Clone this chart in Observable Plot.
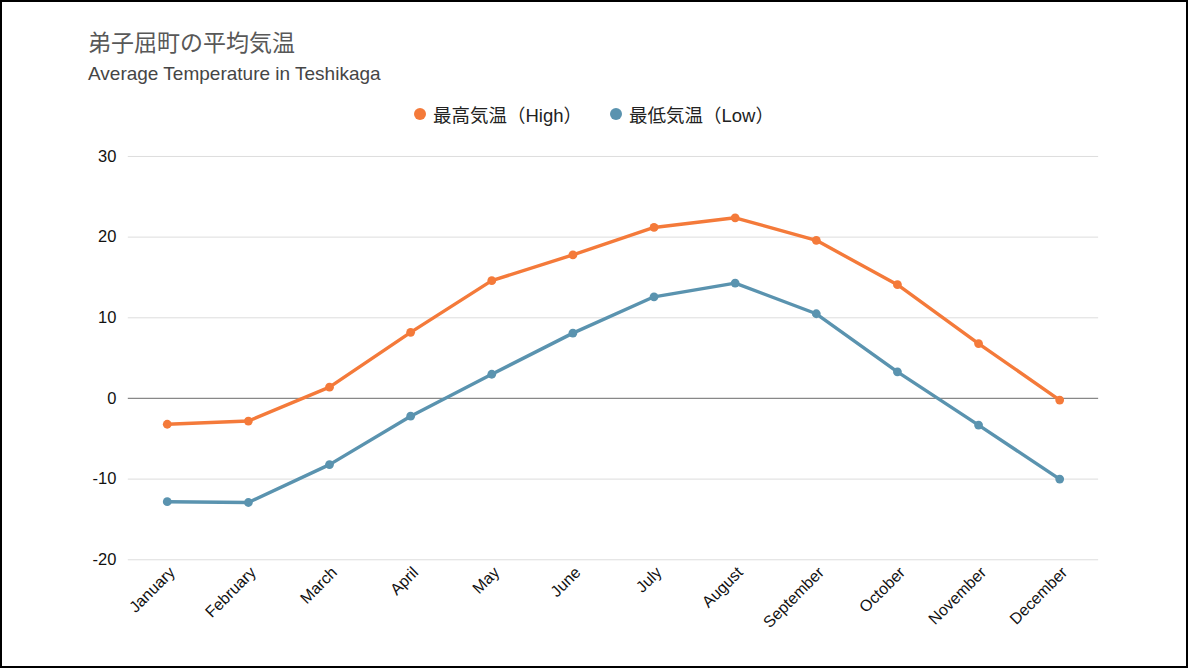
<!DOCTYPE html>
<html>
<head>
<meta charset="utf-8">
<script src="https://cdn.jsdelivr.net/npm/d3@7"></script>
<script src="https://cdn.jsdelivr.net/npm/@observablehq/plot@0.6"></script>
<style>
  html, body { margin: 0; padding: 0; background: #fff; }
  #frame { position: relative; width: 1188px; height: 668px; box-sizing: border-box; border: 2px solid #000; overflow: hidden;
    font-family: "Liberation Sans", Arial, "Noto Sans CJK JP", sans-serif; }
  #title { position: absolute; left: 86px; top: 22px; font-size: 23px; color: #585858; }
  #subtitle { position: absolute; left: 86px; top: 61px; font-size: 19px; color: #454545; }
  #legend { position: absolute; left: 0; width: 1184px; top: 99px; text-align: center; font-size: 18.5px; color: #222; }
  .item { display: inline-flex; align-items: center; margin: 0 14px; }
  .sw { width: 12px; height: 12px; border-radius: 50%; display: inline-block; margin-right: 7px; }
  #chart { position: absolute; left: -2px; top: 136px; }
  #chart svg g[aria-label="y-axis tick label"] text { font-size: 16.5px; }
  #chart svg g[aria-label="x-axis tick label"] text { font-size: 16px; }
</style>
</head>
<body>
<div id="frame">
  <div id="title">弟子屈町の平均気温</div>
  <div id="subtitle">Average Temperature in Teshikaga</div>
  <div id="legend"></div>
  <div id="chart"></div>
</div>
<script>
const months = ["January","February","March","April","May","June","July","August","September","October","November","December"];
const highTemps = [-3.2, -2.8, 1.4, 8.2, 14.6, 17.8, 21.2, 22.4, 19.6, 14.1, 6.8, -0.2];
const lowTemps = [-12.8, -12.9, -8.2, -2.2, 3.0, 8.1, 12.6, 14.3, 10.5, 3.3, -3.3, -10.0];
const seriesNames = ["最高気温（High）", "最低気温（Low）"];
const seriesColors = ["#F47A3A", "#5A93AF"];
const yTicks = [-20, -10, 0, 10, 20, 30];

const data = [];
months.forEach((m, i) => {
  data.push({month: m, value: highTemps[i], series: seriesNames[0]});
  data.push({month: m, value: lowTemps[i], series: seriesNames[1]});
});

const legend = document.getElementById("legend");
seriesNames.forEach((n, i) => {
  const s = document.createElement("span");
  s.className = "item";
  s.innerHTML = `<span class="sw" style="background:${seriesColors[i]}"></span>${n}`;
  legend.appendChild(s);
});

const chart = Plot.plot({
  width: 1188,
  height: 520,
  marginTop: 18,
  marginLeft: 128,
  marginRight: 88,
  marginBottom: 98,
  style: { fontFamily: '"Liberation Sans", Arial, sans-serif', fontSize: "15px", color: "#111", background: "transparent" },
  x: { type: "point", domain: months, padding: 0.48, round: false, label: null },
  y: { domain: [-20, 30], ticks: yTicks, label: null },
  color: { domain: seriesNames, range: seriesColors },
  marks: [
    Plot.ruleY(yTicks.filter(d => d !== 0), { stroke: "#ddd", strokeWidth: 1 }),
    Plot.ruleY([0], { stroke: "#888", strokeWidth: 1.2 }),
    Plot.axisY({ ticks: yTicks, tickSize: 0, tickPadding: 12, tickFormat: d => String(d), label: null }),
    Plot.axisX({ tickSize: 0, tickRotate: -45, tickPadding: 10, dx: 5, label: null }),
    Plot.line(data, { x: "month", y: "value", z: "series", stroke: "series", strokeWidth: 3.4 }),
    Plot.dot(data, { x: "month", y: "value", fill: "series", r: 4.4 })
  ]
});
document.getElementById("chart").appendChild(chart);
</script>
</body>
</html>
